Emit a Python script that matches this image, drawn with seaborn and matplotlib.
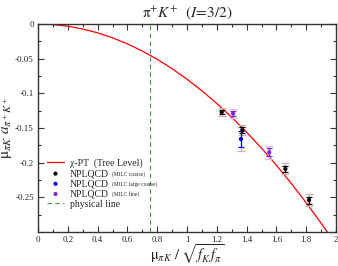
import matplotlib
matplotlib.use("Agg")
import matplotlib.pyplot as plt
import seaborn as sns
import numpy as np
import pandas as pd
from matplotlib.ticker import MultipleLocator

# Tree-level chiPT curve
curve_x = [0.0, 0.1, 0.2, 0.3, 0.4, 0.5, 0.6, 0.7, 0.8, 0.9, 1.0,
           1.1, 1.2, 1.3, 1.4, 1.5, 1.6, 1.7, 1.8, 1.9, 2.0]
curve_y = [0.0, -0.0008, -0.0032, -0.0072, -0.0127, -0.0199, -0.0286, -0.039,
           -0.0509, -0.0645, -0.0796, -0.0963, -0.1146, -0.1345, -0.156, -0.179,
           -0.2037, -0.23, -0.2578, -0.2873, -0.318]

# NPLQCD MILC coarse
coarse_x = [1.233, 1.371, 1.660, 1.819]
coarse_y = [-0.127, -0.153, -0.209, -0.254]
coarse_stat = [0.003, 0.004, 0.004, 0.005]
coarse_tot = [0.006, 0.007, 0.008, 0.009]

# NPLQCD MILC large coarse
large_x = [1.362]
large_y = [-0.166]
large_stat = [0.012]
large_tot = [0.017]

# NPLQCD MILC fine
fine_x = [1.309, 1.552]
fine_y = [-0.129, -0.185]
fine_stat = [0.004, 0.006]
fine_tot = [0.006, 0.009]

phys_x = 0.75

sns.set_theme(style="ticks")
plt.rcParams['font.family'] = ['Liberation Serif', 'DejaVu Serif']
plt.rcParams['mathtext.fontset'] = 'stix'

fig = plt.figure(figsize=(3.38, 2.66), dpi=100)
ax = fig.add_axes([38/338, 1-232/266, (336-38)/338, (232-24)/266])

curve_df = pd.DataFrame({"x": curve_x, "y": curve_y})
sns.lineplot(data=curve_df, x="x", y="y", ax=ax, color="red", lw=0.9,
             label="χ-PT  (Tree Level)", sort=False)

def pts(xs, ys, stat, tot, col, outer, lab):
    ax.errorbar(xs, ys, yerr=tot, fmt="none", ecolor=outer, elinewidth=0.9,
                capsize=3, capthick=0.9, zorder=3)
    ax.errorbar(xs, ys, yerr=stat, fmt="none", ecolor=col, elinewidth=0.9,
                capsize=2.5, capthick=0.9, zorder=4)
    df = pd.DataFrame({"x": xs, "y": ys})
    sns.scatterplot(data=df, x="x", y="y", ax=ax, color=col, s=9,
                    edgecolor="none", zorder=5, label=lab)

pts(coarse_x, coarse_y, coarse_stat, coarse_tot, "black", "#d9b0b0", "NPLQCD")
pts(large_x, large_y, large_stat, large_tot, "blue", "#d9b0b0", "NPLQCD")
pts(fine_x, fine_y, fine_stat, fine_tot, "#7a2ad0", "#d8c0e8", "NPLQCD")

ax.axvline(phys_x, color="#3a9a55", lw=0.8, ls=(0, (4, 3)), label="physical line")

ax.set_xlim(0, 2)
ax.set_ylim(-0.3, 0)
ax.xaxis.set_minor_locator(MultipleLocator(0.1))
ax.yaxis.set_minor_locator(MultipleLocator(0.025))
ax.set_xticks([0, 0.2, 0.4, 0.6, 0.8, 1, 1.2, 1.4, 1.6, 1.8, 2])
ax.set_xticklabels(["0", "0.2", "0.4", "0.6", "0.8", "1", "1.2", "1.4", "1.6", "1.8", "2"])
ax.set_yticks([0, -0.05, -0.1, -0.15, -0.2, -0.25, -0.3])
ax.set_yticklabels(["0", "-0.05", "-0.1", "-0.15", "-0.2", "-0.25", ""])
ax.tick_params(which="both", direction="in", top=True, right=True, labelsize=6.5,
               width=0.8, color="#333333", pad=3)
ax.tick_params(which="major", length=4)
ax.tick_params(which="minor", length=2.5)
for s in ax.spines.values():
    s.set_linewidth(1.0)
    s.set_color("#333333")

ax.set_xlabel(r"$\mathrm{\mu}_{\pi K}\ /\ \sqrt{f_K\, f_\pi}$", fontsize=10.5, labelpad=-1)
ax.set_ylabel(r"$\mathrm{\mu}_{\pi K}\ a_{\pi^+ K^+}$", fontsize=11, labelpad=0)
ax.yaxis.set_label_coords(-0.08, 0.5)
ax.set_title(r"$\mathrm{\pi}^{+}K^{+}$  $(I\!=\!3/2)$", fontsize=11, pad=5)

leg = ax.legend(loc="lower left", bbox_to_anchor=(0.0, 0.07), frameon=False,
                fontsize=7, handlelength=1.8, handletextpad=0.6,
                labelspacing=0.12, borderaxespad=0.5)

fig.canvas.draw()
small = [None, "(MILC coarse)", "(MILC large coarse)", "(MILC fine)", None]
inv = fig.transFigure.inverted()
for t, s in zip(leg.get_texts(), small):
    if s is None:
        continue
    bb = t.get_window_extent()
    x1, y0 = inv.transform((bb.x1, bb.y0))
    fig.text(x1 + 0.008, y0 + 0.006, s, fontsize=4, ha="left", va="bottom",
             family=['Liberation Serif', 'DejaVu Serif'])

fig.savefig("out.png", dpi=100)
